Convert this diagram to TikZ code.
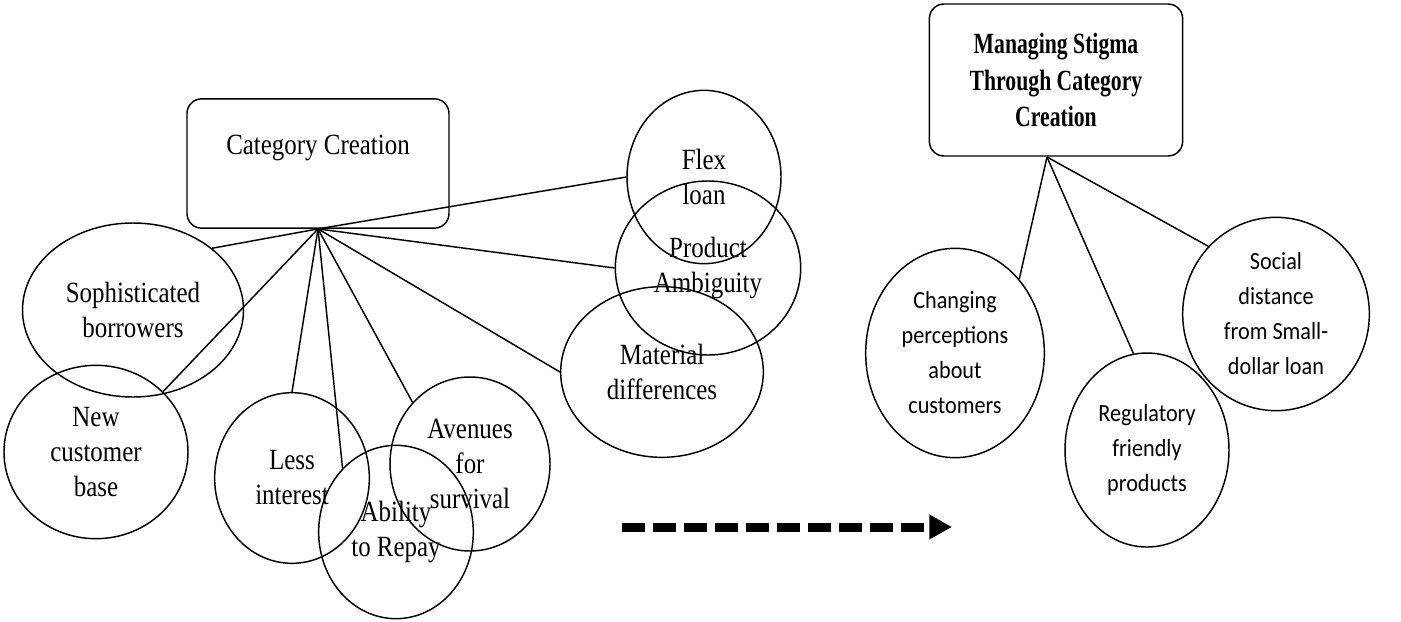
\documentclass[tikz,border=0pt]{standalone}
\usepackage{fontspec}
\setmainfont{Liberation Serif}
\newfontfamily\serifcond[FakeStretch=0.85]{Liberation Serif}
\newfontfamily\titlecond[FakeStretch=0.74]{Liberation Serif}
\newfontfamily\sanscond[FakeStretch=0.9]{Carlito}
\usetikzlibrary{shapes.geometric,arrows.meta}
\tikzset{
  conn/.style={draw=black,line width=1.1pt},
  bub/.style={draw=black,line width=1.1pt,ellipse,inner sep=0pt,align=center,
    font=\serifcond\fontsize{22}{26.25}\selectfont},
  sbub/.style={draw=black,line width=1.1pt,ellipse,inner sep=0pt,align=center,
    font=\sanscond\fontsize{18.5}{26.25}\selectfont},
  rbox/.style={draw=black,line width=1.1pt,rectangle,rounded corners=11pt,inner sep=0pt},
  bigarrow/.style={line width=6.75pt,dash pattern=on 17.25pt off 6pt,
    -{Triangle[length=17pt,width=17.5pt]}}
}
\begin{document}
\begin{tikzpicture}[x=0.75pt,y=-0.75pt]
\useasboundingbox (0,0) rectangle (1401,621);
% left main box
\node[rbox,minimum width=196.5pt,minimum height=97pt] (cat) at (318,163.5) {};
\node[font=\serifcond\fontsize{22}{26.25}\selectfont,inner sep=0pt] (cattext) at (318,148) {Category Creation};
\coordinate (h1) at (cat.south);
% bubbles
\node[bub,minimum width=165.75pt,minimum height=130.5pt] (soph) at (133,310) {Sophisticated\\borrowers};
\node[bub,minimum width=138pt,minimum height=130pt] (newc) at (96,452) {New\\customer\\base};
\node[bub,minimum width=116pt,minimum height=128pt] (less) at (292,478) {Less\\interest};
\node[bub,minimum width=116pt,minimum height=130pt] (abil) at (396,532) {Ability\\to Repay};
\node[bub,minimum width=120pt,minimum height=130.5pt] (aven) at (470,464) {Avenues\\for\\survival};
\node[bub,minimum width=152pt,minimum height=128pt] (mat) at (662,372) {Material\\differences};
\node[bub,minimum width=139pt,minimum height=130.5pt] (prod) at (708,268) {Product\\Ambiguity};
\node[bub,minimum width=115.5pt,minimum height=130pt] (flex) at (704,177) {Flex\\loan};
% connectors left
\draw[conn] (h1) -- (soph.38);
\draw[conn] (h1) -- (newc.42);
\draw[conn] (h1) -- (less.90);
\draw[conn] (h1) -- (abil.130);
\draw[conn] (h1) -- (aven.133);
\draw[conn] (h1) -- (mat.180);
\draw[conn] (h1) -- (prod.180);
\draw[conn] (h1) -- (flex.180);
% arrow
\coordinate (a1) at (622,527);
\coordinate (a2) at (952,527);
\draw[bigarrow] (a1) -- (a2);
% right box
\node[rbox,minimum width=190pt,minimum height=114pt,align=center,
  font=\titlecond\bfseries\fontsize{22}{27.5}\selectfont] (ms) at (1056,80)
  {Managing Stigma\\Through Category\\Creation};
\coordinate (h2) at (1047,157);
\node[sbub,minimum width=134pt,minimum height=157pt] (chg) at (955,353) {Changing\\perceptions\\about\\customers};
\node[sbub,minimum width=123pt,minimum height=145.5pt] (reg) at (1147,450) {Regulatory\\friendly\\products};
\node[sbub,minimum width=140pt,minimum height=145pt] (soc) at (1276,314) {Social\\distance\\from Small-\\dollar loan};
\draw[conn] (h2) -- (chg.49);
\draw[conn] (h2) -- (reg.98);
\draw[conn] (h2) -- (soc.135);
\end{tikzpicture}
\end{document}
